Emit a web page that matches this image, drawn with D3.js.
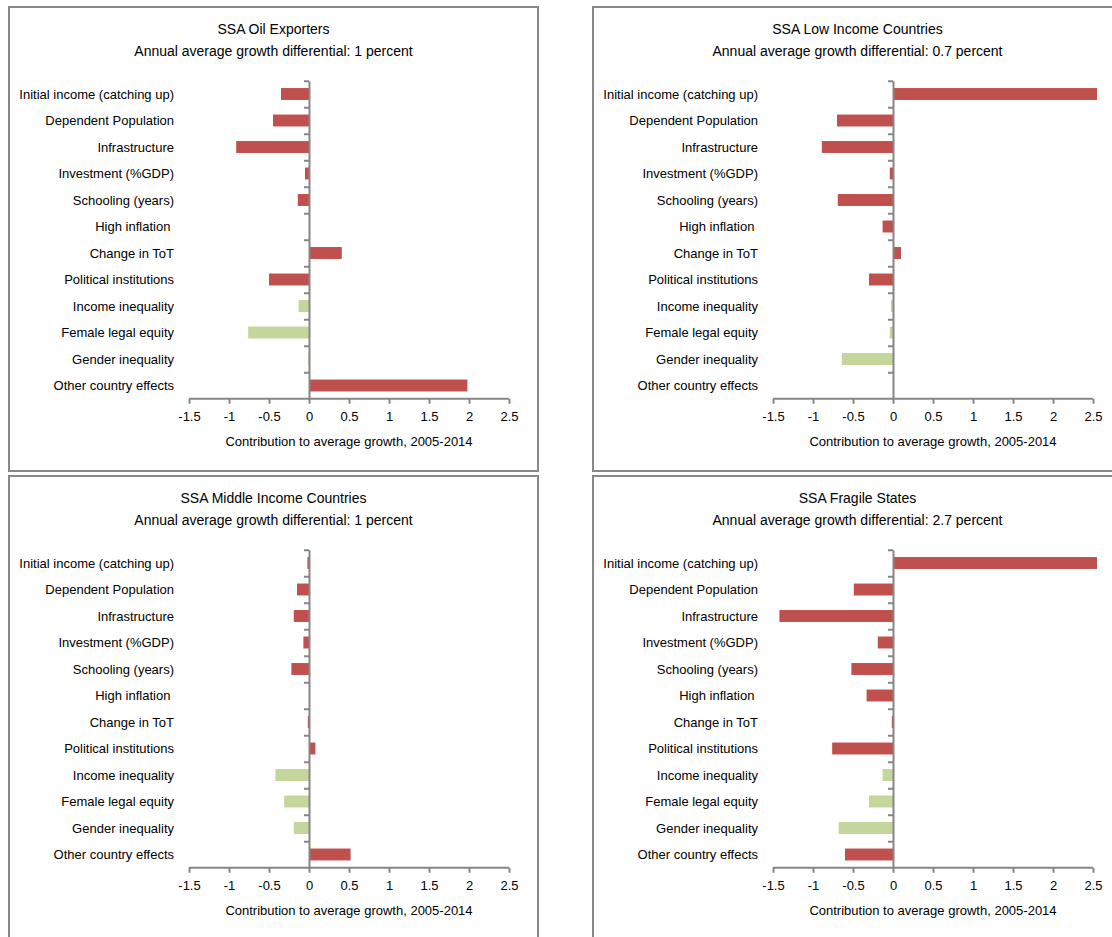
<!DOCTYPE html>
<html>
<head>
<meta charset="utf-8">
<script src="https://cdn.jsdelivr.net/npm/d3@7"></script>
<style>
  body { margin: 0; background: #fff; }
  text { font-family: "Liberation Sans", Arial, sans-serif; fill: #000; white-space: pre; }
</style>
</head>
<body>
<svg id="chart" width="1112" height="937"></svg>
<script>
// row labels, top to bottom
const categories = [
  "Initial income (catching up)",
  "Dependent Population",
  "Infrastructure",
  "Investment (%GDP)",
  "Schooling (years)",
  "High inflation ",
  "Change in ToT",
  "Political institutions",
  "Income inequality",
  "Female legal equity",
  "Gender inequality",
  "Other country effects"
];

// rows drawn in the light green colour
const greenRows = ["Income inequality", "Female legal equity", "Gender inequality"];

const panelTitles = [
  "SSA Oil Exporters",
  "SSA Low Income Countries",
  "SSA Middle Income Countries",
  "SSA Fragile States"
];
const panelSubtitles = [
  "Annual average growth differential: 1 percent",
  "Annual average growth differential: 0.7 percent",
  "Annual average growth differential: 1 percent",
  "Annual average growth differential: 2.7 percent"
];

const oilExporters = [-0.35, -0.45, -0.91, -0.05, -0.14, 0, 0.41, -0.5, -0.13, -0.76, -0.01, 1.98];
const lowIncome = [2.55, -0.7, -0.89, -0.04, -0.69, -0.13, 0.1, -0.3, -0.025, -0.04, -0.64, 0];
const middleIncome = [-0.02, -0.15, -0.19, -0.07, -0.22, 0, -0.015, 0.08, -0.42, -0.31, -0.19, 0.52];
const fragileStates = [2.55, -0.49, -1.42, -0.19, -0.52, -0.33, -0.015, -0.76, -0.13, -0.3, -0.68, -0.6];

const xTicks = [-1.5, -1, -0.5, 0, 0.5, 1, 1.5, 2, 2.5];
const xAxisTitle = "Contribution to average growth, 2005-2014";

const allSeries = [oilExporters, lowIncome, middleIncome, fragileStates];

const red = "#C0504D";
const green = "#C3D69B";
const axisGrey = "#868686";

const panelW = 529, panelH = 464;
const panelPos = [[9, 7], [593, 7], [9, 476], [593, 476]];

const svg = d3.select("#chart");

const x = d3.scaleLinear().domain([-1.5, 2.5]).range([180, 500]);
const y = d3.scaleBand().domain(categories).range([73.75, 391.75]).paddingInner(0.55).paddingOuter(0.275);
const yEdge = d3.scaleLinear().domain([0, categories.length]).range([73.75, 391.75]);

allSeries.forEach((values, i) => {
  const g = svg.append("g")
    .attr("transform", `translate(${panelPos[i][0]},${panelPos[i][1]})`);

  // frame
  g.append("rect")
    .attr("x", 0).attr("y", 0)
    .attr("width", panelW).attr("height", panelH)
    .attr("fill", "#fff")
    .attr("stroke", "#888")
    .attr("stroke-width", 2);

  // titles
  g.append("text")
    .attr("x", panelW / 2).attr("y", 27)
    .attr("text-anchor", "middle")
    .style("font-size", "14px")
    .text(panelTitles[i]);
  g.append("text")
    .attr("x", panelW / 2).attr("y", 49)
    .attr("text-anchor", "middle")
    .style("font-size", "14px")
    .text(panelSubtitles[i]);

  // bars
  g.selectAll(".bar")
    .data(values.map((v, k) => ({ label: categories[k], value: v })))
    .enter()
    .append("rect")
    .attr("x", d => x(Math.min(0, d.value)))
    .attr("y", d => y(d.label))
    .attr("width", d => Math.abs(x(d.value) - x(0)))
    .attr("height", y.bandwidth())
    .attr("fill", d => greenRows.includes(d.label) ? green : red);

  // category labels
  g.selectAll(".cat")
    .data(categories)
    .enter()
    .append("text")
    .attr("x", 165)
    .attr("y", d => y(d) + y.bandwidth() / 2)
    .attr("dy", "0.35em")
    .attr("text-anchor", "end")
    .style("font-size", "13px")
    .text(d => d);

  // vertical axis at zero with ticks between rows
  const yAxis = g.append("g")
    .attr("transform", `translate(${x(0)},0)`)
    .call(d3.axisLeft(yEdge).tickValues(d3.range(0, categories.length)).tickSize(5).tickSizeOuter(0).tickFormat(""));
  yAxis.selectAll("line, path").attr("stroke", axisGrey).attr("stroke-width", 2);

  // horizontal axis
  const xAxis = g.append("g")
    .attr("transform", `translate(0,${yEdge(categories.length)})`)
    .call(d3.axisBottom(x).tickValues(xTicks).tickSize(5).tickSizeOuter(0).tickFormat(d => String(d)));
  xAxis.selectAll("line, path").attr("stroke", axisGrey).attr("stroke-width", 2);
  xAxis.selectAll("text")
    .attr("y", 13)
    .style("font-size", "13px")
    .style("font-family", "'Liberation Sans', Arial, sans-serif")
    .attr("fill", "#000");
  xAxis.select(".domain").attr("d", `M${x(-1.5)},0H${x(2.5)}`);

  g.append("text")
    .attr("x", (x(-1.5) + x(2.5)) / 2).attr("y", 439)
    .attr("text-anchor", "middle")
    .style("font-size", "13px")
    .text(xAxisTitle);
});
</script>
</body>
</html>
